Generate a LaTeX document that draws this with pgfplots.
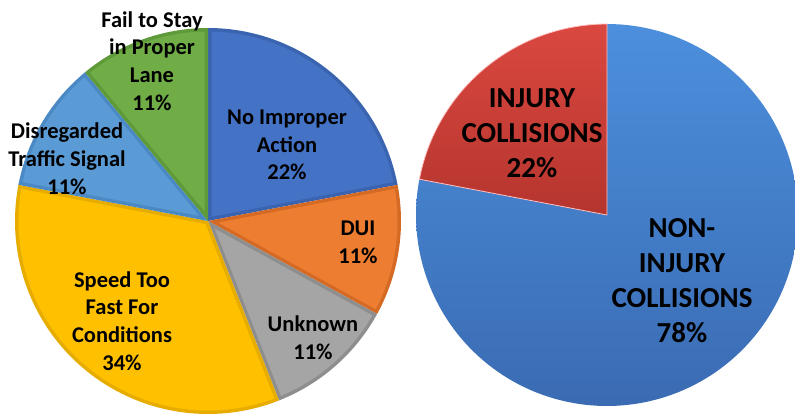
\documentclass[border=0pt]{standalone}
\usepackage{pgfplots}
\pgfplotsset{compat=1.18}
\usepackage{fontspec}
\setmainfont{Carlito}
\definecolor{cBlue}{HTML}{4472C4}\definecolor{cBlueD}{HTML}{3A63B0}
\definecolor{cOrange}{HTML}{ED7D31}\definecolor{cOrangeD}{HTML}{D46A24}
\definecolor{cGray}{HTML}{A5A5A5}\definecolor{cGrayD}{HTML}{8E8E8E}
\definecolor{cYellow}{HTML}{FFC000}\definecolor{cYellowD}{HTML}{E6AC00}
\definecolor{cLBlue}{HTML}{5B9BD5}\definecolor{cLBlueD}{HTML}{4B89C4}
\definecolor{cGreen}{HTML}{70AD47}\definecolor{cGreenD}{HTML}{5F9A3A}
\definecolor{rRedT}{HTML}{DA4840}\definecolor{rRedB}{HTML}{B5352E}
\definecolor{rBlueT}{HTML}{4C8FDC}\definecolor{rBlueB}{HTML}{3A6BB3}
% geometry (pixel units of the reference, y upwards)
\def\LcX{208}\def\LcY{192}\def\LR{193}\def\Bd{3.5}
\def\RcX{607}\def\RcY{198}\def\RR{191}
% data: percentages
\def\pNoImproper{22}\def\pDUI{11}\def\pUnknown{11}\def\pSpeed{34}\def\pSignal{11}\def\pLane{11}
\def\pInjury{22}\def\pNonInjury{78}
\pgfmathsetmacro\La{90}%
\pgfmathsetmacro\Lb{\La-3.6*\pNoImproper}%
\pgfmathsetmacro\Lc{\Lb-3.6*\pDUI}%
\pgfmathsetmacro\Ld{\Lc-3.6*\pUnknown}%
\pgfmathsetmacro\Le{\Ld-3.6*\pSpeed}%
\pgfmathsetmacro\Lf{\Le-3.6*\pSignal}%
\pgfmathsetmacro\Lg{\Lf-3.6*\pLane}%
\pgfmathsetmacro\Ra{90}%
\pgfmathsetmacro\Rb{\Ra+3.6*\pInjury}%
\pgfmathsetmacro\Rc{\Rb+3.6*\pNonInjury}%
\newcommand\slice[4]{%
 \pgfmathsetmacro\sm{(#3+#4)/2}%
 \pgfmathsetmacro\sh{(#4-#3)/2}%
 \pgfmathsetmacro\ax{\LcX+\Bd/sin(\sh)*cos(\sm)}%
 \pgfmathsetmacro\ay{\LcY+\Bd/sin(\sh)*sin(\sm)}%
 \pgfmathsetmacro\da{asin(\Bd/(\LR-\Bd))}%
 \pgfmathsetmacro\ia{#3+\da}\pgfmathsetmacro\ib{#4-\da}%
 \pgfmathsetmacro\ir{\LR-\Bd}%
 \edef\tmp{\noexpand\addplot[fill=#2,draw=none,domain=#3:#4,samples=90] ({\LcX+\LR*cos(x)},{\LcY+\LR*sin(x)}) -- (axis cs:\LcX,\LcY) -- cycle;%
  \noexpand\addplot[fill=#1,draw=none,domain=\ia:\ib,samples=90] ({\LcX+\ir*cos(x)},{\LcY+\ir*sin(x)}) -- (axis cs:\ax,\ay) -- cycle;}%
 \tmp}
\begin{document}%
\begin{tikzpicture}
\begin{axis}[scale only axis, width=795pt, height=413pt,
  xmin=0, xmax=795, ymin=0, ymax=413, hide axis, clip=true]
\slice{cBlue}{cBlueD}{\Lb}{\La}
\slice{cOrange}{cOrangeD}{\Lc}{\Lb}
\slice{cGray}{cGrayD}{\Ld}{\Lc}
\slice{cYellow}{cYellowD}{\Le}{\Ld}
\slice{cLBlue}{cLBlueD}{\Lf}{\Le}
\slice{cGreen}{cGreenD}{\Lg}{\Lf}
% right pie
\addplot[top color=rBlueT, bottom color=rBlueB, draw=none, domain=\Rb:\Rc, samples=150]
  ({\RcX+\RR*cos(x)},{\RcY+\RR*sin(x)}) -- (axis cs:\RcX,\RcY) -- cycle;
\addplot[top color=rRedT, bottom color=rRedB, draw=white!75!red, line width=0.8pt, domain=\Ra:\Rb, samples=60]
  ({\RcX+\RR*cos(x)},{\RcY+\RR*sin(x)}) -- (axis cs:\RcX,\RcY) -- cycle;
% labels
\begin{scope}[every node/.style={align=center, text=black, font=\bfseries\fontsize{22.5}{27.7}\selectfont}]
\node at (axis cs:152,352) {Fail to Stay\\in Proper\\Lane\\11\%};
\node at (axis cs:287,268) {No Improper\\Action\\22\%};
\node at (axis cs:358,171) {DUI\\11\%};
\node at (axis cs:313,75) {Unknown\\11\%};
\node at (axis cs:122,92) {Speed Too\\Fast For\\Conditions\\34\%};
\node at (axis cs:67,254.5) {Disregarded\\Traffic Signal\\11\%};
\end{scope}
\begin{scope}[every node/.style={align=center, text=black, font=\bfseries\fontsize{29}{35}\selectfont}]
\node at (axis cs:532,280) {INJURY\\COLLISIONS\\22\%};
\node at (axis cs:682,132) {NON-\\INJURY\\COLLISIONS\\78\%};
\end{scope}
\end{axis}
\pgfresetboundingbox
\path (current axis.south west) rectangle (current axis.north east);
\end{tikzpicture}%
\end{document}
